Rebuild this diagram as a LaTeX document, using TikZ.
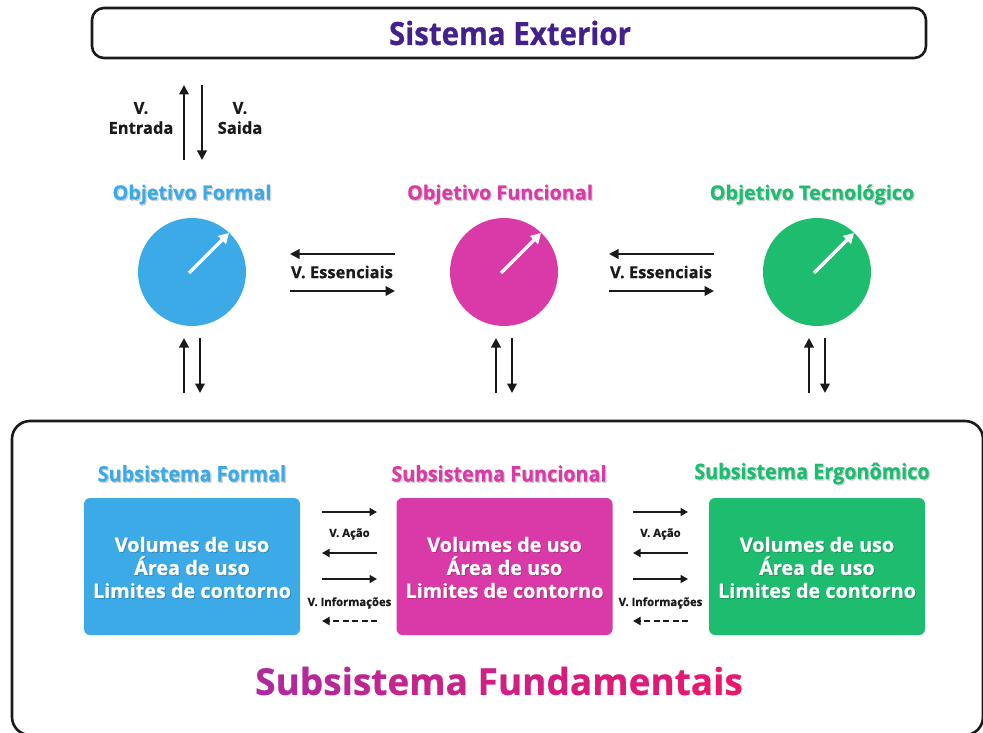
\documentclass[tikz,border=0pt]{standalone}
\usepackage{fontspec}
\setmainfont{Open Sans}[BoldFeatures={FakeBold=0.6}]
\newfontfamily\narrowfont{Open Sans}[FakeStretch=0.92, BoldFeatures={FakeBold=0.6}]
\usetikzlibrary{arrows.meta,calc}

\definecolor{cblue}{HTML}{3DAAE8}
\definecolor{cpink}{HTML}{DA3AA7}
\definecolor{cgreen}{HTML}{1EBC6F}
\definecolor{cpurple}{HTML}{44208C}
\definecolor{ink}{HTML}{1A1A1A}
\definecolor{gradA}{HTML}{B02A9E}
\definecolor{gradB}{HTML}{EC166C}

% letter-by-letter colour ramp from gradA to gradB
\newcommand\rampletter[2]{\textcolor{gradB!#1!gradA}{#2}}

\tikzset{
  arr/.style={ink, line width=2pt, -{Triangle[length=9.5pt,width=9.5pt]}},
  smallarr/.style={ink, line width=1.8pt, -{Triangle[length=7.5pt,width=8pt]}},
  dasharr/.style={smallarr, dash pattern=on 6pt off 3.5pt},
  lbl/.style={text=ink, font=\bfseries\fontsize{16.5}{20}\selectfont, align=center, inner sep=0},
  tinylbl/.style={text=ink, font=\bfseries\fontsize{11.3}{13}\selectfont, inner sep=0},
  objtitle/.style={font=\bfseries\fontsize{19.8}{22}\selectfont, inner sep=0},
  subtitle/.style={font=\narrowfont\bfseries\fontsize{21.5}{22}\selectfont, inner sep=0},
  shadowtxt/.style={text=black, opacity=0.16},
  objcircle/.style={circle, minimum size=108pt, inner sep=0},
  subbox/.style={rounded corners=6pt, minimum width=216pt, minimum height=137pt, inner sep=0},
  boxtxt/.style={text=white, font=\bfseries\fontsize{19.8}{23}\selectfont, align=center, inner sep=0},
  needle/.style={white, line width=3.5pt, -{Triangle[length=10pt,width=11pt]}},
}

\begin{document}
\begin{tikzpicture}[x=1pt,y=-1pt]
\useasboundingbox[fill=white] (0,0) rectangle (983,733);

% exterior system bar
\draw[ink, line width=2.6pt, rounded corners=12pt] (92,8) rectangle (926,58);
\node[text=cpurple, font=\narrowfont\bfseries\fontsize{32}{34}\selectfont, inner sep=0] (ext) at (510,33) {Sistema Exterior};

% input / output flows with the exterior
\coordinate (inLow) at (184,160);
\coordinate (inTop) at (184,85);
\coordinate (outTop) at (202,85);
\coordinate (outLow) at (202,160);
\draw[arr] (inLow) -- (inTop);
\draw[arr] (outTop) -- (outLow);
\node[lbl] (entrada) at (141,118) {V.\\Entrada};
\node[lbl] (saida) at (240,118) {V.\\Saida};

% objectives
\foreach \name/\cx/\col/\txt in {of/192/cblue/Objetivo Formal, ofu/500/cpink/Objetivo Funcional, ot/812/cgreen/Objetivo Tecnológico}{
  \node[objtitle, shadowtxt] at (\cx+1.2,195.8) {\txt};
  \node[objtitle, text=\col] (\name-t) at (\cx,194.5) {\txt};
}
\foreach \name/\cx/\col in {of/192/cblue, ofu/504/cpink, ot/817/cgreen}{
  \node[objcircle, fill=\col] (\name) at (\cx,272) {};
  \draw[needle] ($(\name.center)+(-3,1)$) -- ($(\name.center)+(37,-39)$);
  \coordinate (\name-up0) at (\cx-8,393);
  \coordinate (\name-up1) at (\cx-8,338);
  \coordinate (\name-dn0) at (\cx+8,338);
  \coordinate (\name-dn1) at (\cx+8,393);
  \draw[arr] (\name-up0) -- (\name-up1);
  \draw[arr] (\name-dn0) -- (\name-dn1);
}

% essential flows between objectives
\foreach \a/\b/\m in {of/ofu/342, ofu/ot/661}{
  \coordinate (\a-el) at (\m-52,254);
  \coordinate (\a-er) at (\m+53,254);
  \coordinate (\a-fl) at (\m-52,291);
  \coordinate (\a-fr) at (\m+53,291);
  \draw[arr] (\a-er) -- (\a-el);
  \draw[arr] (\a-fl) -- (\a-fr);
  \node[lbl] (\a-ess) at (\m,272) {V. Essenciais};
}

% fundamental subsystems frame
\draw[ink, line width=2.6pt, rounded corners=18pt] (12,421) rectangle (983,735);

\foreach \name/\cx/\col/\txt in {sf/192/cblue/Subsistema Formal, sfu/499/cpink/Subsistema Funcional, se/812/cgreen/Subsistema Ergonômico}{
  \node[subtitle, shadowtxt] at (\cx+1.2,474.8) {\txt};
  \node[subtitle, text=\col] (\name-t) at (\cx,473.5) {\txt};
}
\foreach \name/\cx/\col in {sf/192/cblue, sfu/504.5/cpink, se/817/cgreen}{
  \node[subbox, fill=\col] (\name) at (\cx,566.5) {};
  \node[boxtxt, text=black, opacity=0.15] at (\cx+1,568.5) {Volumes de uso\\Área de uso\\Limites de contorno};
  \node[boxtxt] at (\cx,567.5) {Volumes de uso\\Área de uso\\Limites de contorno};
}

% action and information flows between subsystems
\foreach \a/\m in {sf/349.5, sfu/660.5}{
  \coordinate (\a-p1) at (\m-27.5,512);
  \coordinate (\a-p2) at (\m+27.5,512);
  \coordinate (\a-q1) at (\m+27.5,553);
  \coordinate (\a-q2) at (\m-27.5,553);
  \coordinate (\a-r1) at (\m-27.5,579);
  \coordinate (\a-r2) at (\m+27.5,579);
  \coordinate (\a-s1) at (\m+27.5,621);
  \coordinate (\a-s2) at (\m-27.5,621);
  \draw[smallarr] (\a-p1) -- (\a-p2);
  \node[tinylbl] (\a-acao) at (\m,534) {V. Ação};
  \draw[smallarr] (\a-q1) -- (\a-q2);
  \draw[smallarr] (\a-r1) -- (\a-r2);
  \node[tinylbl] (\a-info) at (\m,603) {V. Informações};
  \draw[dasharr] (\a-s1) -- (\a-s2);
}

% heading of the frame, coloured in a purple to pink ramp
\node[font=\bfseries\fontsize{37}{40}\selectfont, inner sep=0] (fund) at (499,681) {%
\rampletter{0}{S}\rampletter{5}{u}\rampletter{9}{b}\rampletter{14}{s}\rampletter{18}{i}%
\rampletter{23}{s}\rampletter{27}{t}\rampletter{32}{e}\rampletter{36}{m}\rampletter{41}{a}
\rampletter{50}{F}\rampletter{55}{u}\rampletter{59}{n}\rampletter{64}{d}\rampletter{68}{a}%
\rampletter{73}{m}\rampletter{77}{e}\rampletter{82}{n}\rampletter{86}{t}\rampletter{91}{a}%
\rampletter{95}{i}\rampletter{100}{s}};
\end{tikzpicture}
\end{document}
